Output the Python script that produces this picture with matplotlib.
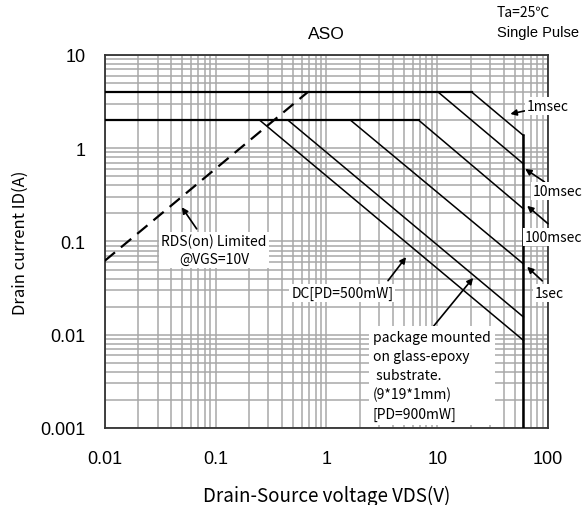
import matplotlib
matplotlib.use('Agg')
import matplotlib.pyplot as plt

# SOA curve data
vds_max = 60
rds_v = [0.01, 0.68]
rds_i = [0.062, 4]

# horizontal current limits (pulse 4 A, continuous 2 A)
hline_levels = [4, 2]
hline_ends = [20.5, 6.8]

# constant power segments: start (V, A) -> end (V, A)
seg_names = ['1msec', '10msec', '100msec', '1sec', 'DC500', 'DC900']
seg_v0 = [20.5, 10.2, 6.8, 1.65, 0.25, 0.45]
seg_i0 = [4, 4, 2, 2, 2, 2]
seg_v1 = [60, 60, 60, 60, 60, 60]
seg_i1 = [1.37, 0.68, 0.224, 0.0575, 0.0087, 0.0155]

x_ticks = [0.01, 0.1, 1, 10, 100]
x_labels = ['0.01', '0.1', '1', '10', '100']
y_ticks = [0.001, 0.01, 0.1, 1, 10]
y_labels = ['0.001', '0.01', '0.1', '1', '10']

tick_font = ['Liberation Sans', 'DejaVu Sans']
note_font = ['Noto Sans CJK JP', 'DejaVu Sans']

fig = plt.figure(figsize=(5.83, 5.06), dpi=100)
ax = fig.add_axes([0.1796, 0.1522, 0.7604, 0.7372])
ax.set_xscale('log')
ax.set_yscale('log')
ax.set_xlim(0.01, 100)
ax.set_ylim(0.001, 10)

ax.grid(True, which='both', color='#a8a8a8', linewidth=1.1)
ax.set_axisbelow(True)
ax.tick_params(which='both', length=0)
ax.tick_params(axis='x', pad=16)
ax.tick_params(axis='y', pad=14)
ax.set_xticks(x_ticks)
ax.set_xticklabels(x_labels, family=tick_font, fontsize=13)
ax.set_yticks(y_ticks)
ax.set_yticklabels(y_labels, family=tick_font, fontsize=13)
for s in ax.spines.values():
    s.set_linewidth(1.3)
    s.set_color('#333333')

# limit lines
for lvl, xe in zip(hline_levels, hline_ends):
    ax.plot([0.01, xe], [lvl, lvl], color='black', lw=1.6, zorder=3)
for v0, i0, v1, i1 in zip(seg_v0, seg_i0, seg_v1, seg_i1):
    ax.plot([v0, v1], [i0, i1], color='black', lw=1.1, zorder=3)
ax.plot([vds_max, vds_max], [seg_i1[0], 0.001], color='black', lw=1.8, zorder=3)
ax.plot(rds_v, rds_i, color='black', lw=1.6, dashes=(6, 3.5), zorder=3)

box = dict(boxstyle='square,pad=0.15', fc='white', ec='none')
arrow = dict(arrowstyle='-|>', color='black', lw=1.2, mutation_scale=9,
             shrinkA=0, shrinkB=0)

ax.annotate('1msec', xy=(45.7, 2.33), xytext=(64.7, 2.84), fontsize=10,
            family=note_font, va='center', ha='left', bbox=box,
            arrowprops=arrow, annotation_clip=False, zorder=5)
ax.annotate('10msec', xy=(62.2, 0.60), xytext=(73.4, 0.348), fontsize=10,
            family=note_font, va='center', ha='left', bbox=box,
            arrowprops=arrow, annotation_clip=False, zorder=5)
ax.annotate('', xy=(64.8, 0.241), xytext=(100, 0.155),
            arrowprops=arrow, annotation_clip=False, zorder=5)
ax.text(62.2, 0.112, '100msec', fontsize=10, family=note_font, va='center',
        ha='left', bbox=box, zorder=5, clip_on=False)
ax.annotate('', xy=(64.8, 0.0535), xytext=(88.7, 0.0378),
            arrowprops=arrow, annotation_clip=False, zorder=5)
ax.text(76.6, 0.0281, '1sec', fontsize=10, family=note_font, va='center',
        ha='left', bbox=box, zorder=5, clip_on=False)

ax.annotate('', xy=(0.0496, 0.233), xytext=(0.0676, 0.1365),
            arrowprops=arrow, zorder=5)
ax.text(0.0968, 0.0813, 'RDS(on) Limited\n@VGS=10V', fontsize=10,
        family=note_font, va='center', ha='center', ma='center',
        linespacing=1.35, bbox=box, zorder=5)

ax.annotate('', xy=(5.24, 0.0679), xytext=(3.6, 0.038),
            arrowprops=arrow, zorder=5)
ax.text(1.39, 0.0281, 'DC[PD=500mW]', fontsize=10, family=note_font,
        va='center', ha='center', bbox=box, zorder=5)

ax.annotate('', xy=(21.1, 0.0407), xytext=(9.18, 0.01216),
            arrowprops=arrow, zorder=5)
ax.text(2.62, 0.0113,
        'package mounted\non glass-epoxy\n substrate.\n(9*19*1mm)\n[PD=900mW]',
        fontsize=10, family=note_font, va='top', ha='left', linespacing=1.45,
        bbox=dict(boxstyle='square,pad=0.3', fc='white', ec='none'), zorder=5)

ax.set_title('ASO', family=tick_font, fontsize=12.5, pad=12)
ax.set_xlabel('Drain-Source voltage VDS(V)', family=note_font, fontsize=13.5,
              va='center')
ax.xaxis.set_label_coords(0.5, -0.18)
ax.set_ylabel('Drain current ID(A)', family=note_font, fontsize=12,
              va='center')
ax.yaxis.set_label_coords(-0.191, 0.5)

fig.text(497 / 583, 1 - 13 / 506, 'Ta=25℃', family=note_font, fontsize=10,
         va='center', ha='left')
fig.text(497 / 583, 1 - 33 / 506, 'Single Pulse', family=tick_font,
         fontsize=10.5, va='center', ha='left')

fig.savefig('out.png', dpi=100)
